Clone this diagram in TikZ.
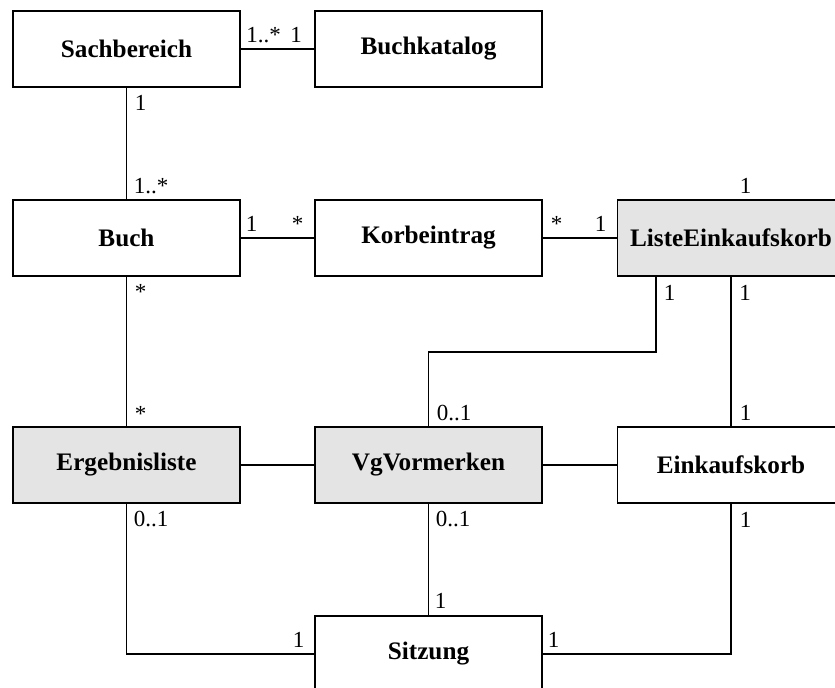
\documentclass[tikz,border=0pt]{standalone}
\usepackage{fontspec}
\setmainfont{Liberation Serif}
\definecolor{klassgrau}{RGB}{228,228,228}
\tikzset{
  klasse/.style={draw, line width=0.6pt, minimum width=113.5pt, minimum height=38pt, inner sep=0pt, font=\fontsize{12.6}{15}\selectfont\bfseries},
  steuer/.style={klasse, fill=klassgrau},
  mult/.style={inner sep=0pt, anchor=base west, font=\fontsize{11.5}{14}\selectfont},
  assoc/.style={line width=0.6pt}
}
\begin{document}
\begin{tikzpicture}[x=0.5pt, y=-0.5pt]
	\useasboundingbox (0,0) rectangle (835,687);
	\clip (0,0) rectangle (835,687);
	\node[klasse] (sachbereich) at (126.5, 49) {Sachbereich};
	\node[klasse] (buchkatalog) at (428.5, 49) {Buchkatalog};
	\node[klasse] (buch) at (126.5, 238) {Buch};
	\node[klasse] (korbeintrag) at (428.5, 238) {Korbeintrag};
	\node[steuer] (liste) at (731, 238) {ListeEinkaufskorb};
	\node[steuer] (ergebnis) at (126.5, 465) {Ergebnisliste};
	\node[steuer] (vormerken) at (428.5, 465) {VgVormerken};
	\node[klasse] (einkaufskorb) at (731, 465) {Einkaufskorb};
	\node[klasse] (sitzung) at (428.5, 654) {Sitzung};
	\coordinate (knick) at (656, 352);
	\draw[assoc] (sachbereich) -- (buchkatalog);
	\draw[assoc] (sachbereich) -- (buch);
	\draw[assoc] (buch) -- (korbeintrag);
	\draw[assoc] (korbeintrag) -- (liste);
	\draw[assoc] (buch) -- (ergebnis);
	\draw[assoc] (liste) -- (einkaufskorb);
	\draw[assoc] (liste.south -| knick) -- (knick) -| (vormerken.north);
	\draw[assoc] (ergebnis) -- (vormerken);
	\draw[assoc] (vormerken) -- (einkaufskorb);
	\draw[assoc] (vormerken) -- (sitzung);
	\draw[assoc] (ergebnis) |- (sitzung);
	\draw[assoc] (einkaufskorb) |- (sitzung);
	\node[mult] (m1) at (246, 42) {1..*};
	\node[mult] (m2) at (290, 42) {1};
	\node[mult] (m3) at (134.5, 110) {1};
	\node[mult] (m4) at (133.5, 193) {1..*};
	\node[mult] (m5) at (245.5, 231) {1};
	\node[mult] (m6) at (291.5, 231) {*};
	\node[mult] (m7) at (550.5, 231) {*};
	\node[mult] (m8) at (594.5, 231) {1};
	\node[mult] (m9) at (739.5, 193) {1};
	\node[mult] (m10) at (663.5, 300) {1};
	\node[mult] (m11) at (739, 300) {1};
	\node[mult] (m12) at (134.5, 299) {*};
	\node[mult] (m13) at (134.5, 421) {*};
	\node[mult] (m14) at (436.5, 420) {0..1};
	\node[mult] (m15) at (739.5, 420) {1};
	\node[mult] (m16) at (133.5, 526) {0..1};
	\node[mult] (m17) at (435.5, 526) {0..1};
	\node[mult] (m18) at (739.5, 527) {1};
	\node[mult] (m19) at (434.5, 608) {1};
	\node[mult] (m20) at (292.5, 647) {1};
	\node[mult] (m21) at (547.5, 647) {1};
\end{tikzpicture}
\end{document}
